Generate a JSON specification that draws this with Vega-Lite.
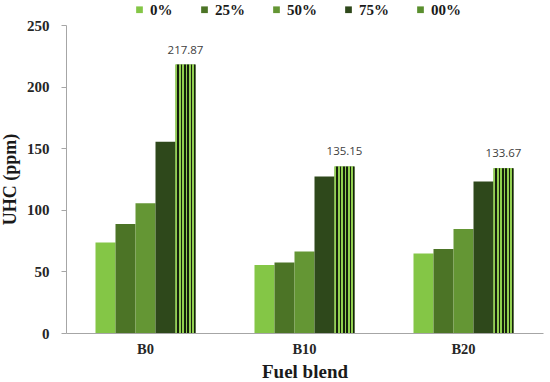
{
  "$schema": "https://vega.github.io/schema/vega-lite/v6.json",
  "width": 477,
  "height": 308,
  "autosize": {"type": "none"},
  "padding": {"left": 66, "top": 25, "right": 7, "bottom": 49},
  "background": "white",
  "config": {"view": {"stroke": null}},
  "data": {
    "values": [
      {"blend": "B0", "level": "0%", "uhc": 73.5},
      {"blend": "B0", "level": "25%", "uhc": 88.5},
      {"blend": "B0", "level": "50%", "uhc": 105.3},
      {"blend": "B0", "level": "75%", "uhc": 155.3},
      {"blend": "B0", "level": "00%", "uhc": 217.87, "label": "217.87"},
      {"blend": "B10", "level": "0%", "uhc": 55.1},
      {"blend": "B10", "level": "25%", "uhc": 57.3},
      {"blend": "B10", "level": "50%", "uhc": 66.2},
      {"blend": "B10", "level": "75%", "uhc": 127.0},
      {"blend": "B10", "level": "00%", "uhc": 135.15, "label": "135.15"},
      {"blend": "B20", "level": "0%", "uhc": 64.6},
      {"blend": "B20", "level": "25%", "uhc": 68.1},
      {"blend": "B20", "level": "50%", "uhc": 84.4},
      {"blend": "B20", "level": "75%", "uhc": 123.0},
      {"blend": "B20", "level": "00%", "uhc": 133.67, "label": "133.67"}
    ]
  },
  "encoding": {
    "x": {
      "field": "blend", "type": "nominal",
      "scale": {"paddingInner": 0.371, "paddingOuter": 0.1855},
      "axis": {
        "title": "Fuel blend", "labelAngle": 0, "ticks": false,
        "domainColor": "#a6a6a6", "labelFont": "Liberation Serif", "labelFontWeight": "bold",
        "labelFontSize": 14.5, "labelColor": "#262626", "labelPadding": 9,
        "titleFont": "Liberation Serif", "titleFontSize": 19, "titleFontWeight": "bold",
        "titleColor": "#1a1a1a", "titlePadding": 7
      }
    },
    "xOffset": {"field": "level", "type": "nominal", "sort": ["0%", "25%", "50%", "75%", "00%"]},
    "y": {
      "field": "uhc", "type": "quantitative",
      "scale": {"domain": [0, 250]},
      "axis": {
        "title": "UHC (ppm)", "values": [0, 50, 100, 150, 200, 250], "grid": false,
        "domainColor": "#a6a6a6", "tickColor": "#a6a6a6", "tickSize": 5,
        "labelFont": "Liberation Serif", "labelFontWeight": "bold", "labelFontSize": 15,
        "labelColor": "#262626", "labelPadding": 12,
        "titleFont": "Liberation Serif", "titleFontSize": 18, "titleFontWeight": "bold",
        "titleColor": "#1a1a1a", "titlePadding": 7
      }
    }
  },
  "layer": [
    {
      "mark": {"type": "bar", "width": 20},
      "encoding": {
        "color": {
          "field": "level", "type": "nominal", "sort": ["0%", "25%", "50%", "75%", "00%"],
          "scale": {"domain": ["0%", "25%", "50%", "75%", "00%"],
                    "range": ["#84c646", "#4c7426", "#649634", "#2e481b", "#5a8f2e"]},
          "legend": {
            "title": null, "orient": "none", "direction": "horizontal", "columns": 5,
            "legendX": 66, "legendY": -23, "symbolType": "square", "symbolSize": 45,
            "symbolStrokeWidth": 0, "labelFont": "Liberation Serif", "labelFontWeight": "bold",
            "labelFontSize": 15, "labelColor": "#1a1a1a", "columnPadding": 24, "labelOffset": 3
          }
        }
      }
    },
    {
      "transform": [{"filter": "datum.level == '00%'"}],
      "mark": {
        "type": "bar", "width": 20,
        "fill": {
          "gradient": "linear", "x1": 0, "x2": 1, "y1": 0, "y2": 0,
          "stops": [
            {"offset": 0, "color": "#92d050"}, {"offset": 0.08, "color": "#92d050"},
            {"offset": 0.08, "color": "#15200c"}, {"offset": 0.17, "color": "#15200c"},
            {"offset": 0.17, "color": "#92d050"}, {"offset": 0.25, "color": "#92d050"},
            {"offset": 0.25, "color": "#15200c"}, {"offset": 0.33, "color": "#15200c"},
            {"offset": 0.33, "color": "#92d050"}, {"offset": 0.42, "color": "#92d050"},
            {"offset": 0.42, "color": "#15200c"}, {"offset": 0.5, "color": "#15200c"},
            {"offset": 0.5, "color": "#92d050"}, {"offset": 0.58, "color": "#92d050"},
            {"offset": 0.58, "color": "#15200c"}, {"offset": 0.67, "color": "#15200c"},
            {"offset": 0.67, "color": "#92d050"}, {"offset": 0.75, "color": "#92d050"},
            {"offset": 0.75, "color": "#15200c"}, {"offset": 0.83, "color": "#15200c"},
            {"offset": 0.83, "color": "#92d050"}, {"offset": 0.92, "color": "#92d050"},
            {"offset": 0.92, "color": "#15200c"}, {"offset": 1, "color": "#15200c"}
          ]
        }
      }
    },
    {
      "transform": [{"filter": "datum.label != null"}],
      "mark": {"type": "text", "dy": -14, "font": "Open Sans", "fontSize": 11.5, "color": "#404040"},
      "encoding": {"text": {"field": "label"}}
    }
  ]
}
